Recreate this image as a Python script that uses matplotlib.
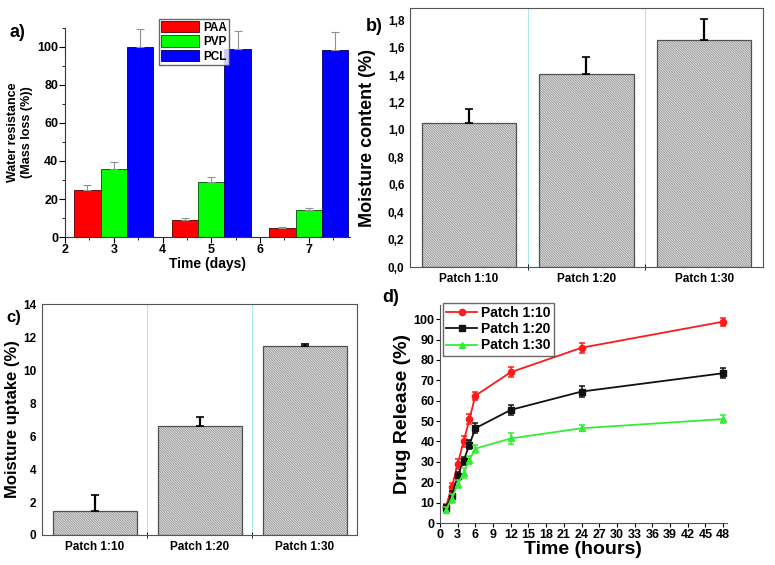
import matplotlib.pyplot as plt
import numpy as np
from matplotlib.ticker import MultipleLocator, FuncFormatter

plt.rcParams['font.family'] = ['Liberation Sans', 'DejaVu Sans']
plt.rcParams['font.weight'] = 'bold'
plt.rcParams['hatch.linewidth'] = 0.6

# a) water resistance
dias = [3, 5, 7]
paa = [25, 9, 5]
paa_err = [2.5, 1.0, 0.5]
pvp = [36, 29, 14]
pvp_err = [3.3, 2.8, 1.2]
pcl = [100, 99, 98.6]
pcl_err = [9.5, 9.2, 9.2]

# b) moisture content, c) moisture uptake
patches = ['Patch 1:10', 'Patch 1:20', 'Patch 1:30']
umidade = [1.05, 1.41, 1.66]
umidade_err = [0.10, 0.12, 0.15]
absorcao = [1.45, 6.6, 11.45]
absorcao_err = [0.95, 0.55, 0.15]

# d) drug release
horas = [1, 2, 3, 4, 5, 6, 12, 24, 48]
lib_10 = [8, 17.5, 29, 40, 51, 62.5, 74, 86, 98.8]
lib_10_err = [1.5, 2, 2.5, 2.5, 2.5, 2, 2.5, 2.5, 2]
lib_20 = [7.5, 13.5, 23, 30.5, 38.5, 46.5, 55.5, 64.5, 73.5]
lib_20_err = [1.5, 2, 2, 2, 2, 2.5, 2.5, 2.5, 2.5]
lib_30 = [6.5, 12, 19, 24.5, 31, 36.5, 41.5, 46.5, 51]
lib_30_err = [1.5, 2, 2, 2.5, 2, 2, 2.5, 1.5, 2]

fig = plt.figure(figsize=(7.75, 5.65), dpi=100)

# ---------- a)
ax1 = fig.add_axes([0.0839, 0.5805, 0.368, 0.37])
w = 0.54
x = np.array(dias)
ek = dict(ecolor='#909090', capsize=3, elinewidth=0.8, capthick=0.8)
ax1.bar(x - w, paa, w, color='#ff0000', edgecolor='#500000', linewidth=0.6, label='PAA',
        yerr=[np.zeros(3), paa_err], error_kw=ek)
ax1.bar(x, pvp, w, color='#00ff00', edgecolor='#005000', linewidth=0.6, label='PVP',
        yerr=[np.zeros(3), pvp_err], error_kw=ek)
ax1.bar(x + w, pcl, w, color='#0000ff', edgecolor='#000050', linewidth=0.6, label='PCL',
        yerr=[np.zeros(3), pcl_err], error_kw=ek)
ax1.set_xlim(2, 7.85)
ax1.set_ylim(0, 110)
ax1.xaxis.set_major_locator(MultipleLocator(1))
ax1.xaxis.set_minor_locator(MultipleLocator(0.5))
ax1.yaxis.set_major_locator(MultipleLocator(20))
ax1.yaxis.set_minor_locator(MultipleLocator(10))
ax1.spines['top'].set_visible(False)
ax1.spines['right'].set_visible(False)
for s in ['left', 'bottom']:
    ax1.spines[s].set_color('#333333')
ax1.tick_params(which='major', direction='out', length=4, labelsize=9, pad=1)
ax1.tick_params(which='minor', direction='out', length=2)
ax1.set_xlabel('Time (days)', fontsize=10, fontweight='bold', labelpad=1)
ax1.set_ylabel('Water resistance\n(Mass loss (%))', fontsize=9, fontweight='bold', labelpad=3)
ax1.legend(loc='upper left', bbox_to_anchor=(0.33, 1.045), fontsize=8.5, frameon=True,
           fancybox=False, edgecolor='#444444', handlelength=3.2, handleheight=1.1,
           borderpad=0.2, labelspacing=0.15, handletextpad=0.3, borderaxespad=0)
fig.text(0.012, 0.935, 'a)', fontsize=13, fontweight='bold')


def barras_hachuradas(ax, vals, errs, ymax, passo, fmt, ylabel, lsize):
    pos = np.arange(len(vals))
    # hachura clara e contorno escuro separados
    ax.bar(pos, vals, 0.8, color='#ececec', edgecolor='#8c8c8c', hatch='\\' * 14,
           linewidth=0)
    ax.bar(pos, vals, 0.8, fill=False, edgecolor='#505050', linewidth=0.9,
           yerr=[np.zeros(len(vals)), errs],
           error_kw=dict(ecolor='black', capsize=3, elinewidth=1.6, capthick=1.2))
    for b in [0.5, 1.5]:
        ax.axvline(b, color='#a8e8f0', linewidth=0.8, zorder=0)
    ax.set_xlim(-0.5, 2.5)
    ax.set_ylim(0, ymax)
    ax.set_xticks(pos)
    ax.set_xticklabels(patches)
    ax.set_xticks([0.5, 1.5], minor=True)
    ax.yaxis.set_major_locator(MultipleLocator(passo))
    ax.yaxis.set_major_formatter(FuncFormatter(fmt))
    ax.tick_params(axis='x', which='major', length=0, labelsize=8.5, pad=4)
    ax.tick_params(axis='x', which='minor', direction='inout', length=5)
    ax.tick_params(axis='y', length=0, labelsize=8.5, pad=4)
    for s in ax.spines.values():
        s.set_color('#555555')
    ax.set_ylabel(ylabel, fontsize=lsize, fontweight='bold')


# ---------- b)
ax2 = fig.add_axes([0.529, 0.5274, 0.4555, 0.4584])
barras_hachuradas(ax2, umidade, umidade_err, 1.89, 0.2,
                  lambda v, p: ('%.1f' % v).replace('.', ','),
                  'Moisture content (%)', 13)
ax2.yaxis.set_label_coords(-0.095, 0.5)
fig.text(0.472, 0.945, 'b)', fontsize=13, fontweight='bold')

# ---------- c)
ax3 = fig.add_axes([0.0542, 0.0531, 0.4065, 0.4088])
barras_hachuradas(ax3, absorcao, absorcao_err, 14, 2,
                  lambda v, p: '%d' % v, 'Moisture uptake (%)', 12)
ax3.yaxis.set_label_coords(-0.07, 0.5)
fig.text(0.008, 0.43, 'c)', fontsize=12, fontweight='bold')

# ---------- d)
ax4 = fig.add_axes([0.5677, 0.0743, 0.370, 0.386])
series = [(lib_10, lib_10_err, '#ff1a1a', 'o', 'Patch 1:10'),
          (lib_20, lib_20_err, '#111111', 's', 'Patch 1:20'),
          (lib_30, lib_30_err, '#33ee33', '^', 'Patch 1:30')]
for ys, es, cor, mk, nome in series:
    ax4.errorbar(horas, ys, yerr=es, fmt='none', ecolor=cor, capsize=2.5,
                 elinewidth=1.1, capthick=1.1)
    ax4.plot(horas, ys, color=cor, marker=mk, markersize=4.5, linewidth=1.3, label=nome)
ax4.set_xlim(0, 48.6)
ax4.set_ylim(0, 107)
ax4.xaxis.set_major_locator(MultipleLocator(3))
ax4.yaxis.set_major_locator(MultipleLocator(10))
ax4.spines['top'].set_visible(False)
ax4.spines['right'].set_visible(False)
for s in ['left', 'bottom']:
    ax4.spines[s].set_color('#555555')
ax4.tick_params(direction='out', length=3, labelsize=9, pad=1)
ax4.set_xlabel('Time (hours)', fontsize=14, fontweight='bold', labelpad=0)
ax4.set_ylabel('Drug Release (%)', fontsize=14, fontweight='bold', labelpad=2)
ax4.legend(loc='upper left', bbox_to_anchor=(0.01, 1.01), fontsize=10, frameon=True,
           fancybox=False, edgecolor='#444444', handlelength=2.2, borderpad=0.25,
           labelspacing=0.15, handletextpad=0.3, borderaxespad=0)
fig.text(0.493, 0.465, 'd)', fontsize=13, fontweight='bold')

fig.savefig('out.png', dpi=100)
